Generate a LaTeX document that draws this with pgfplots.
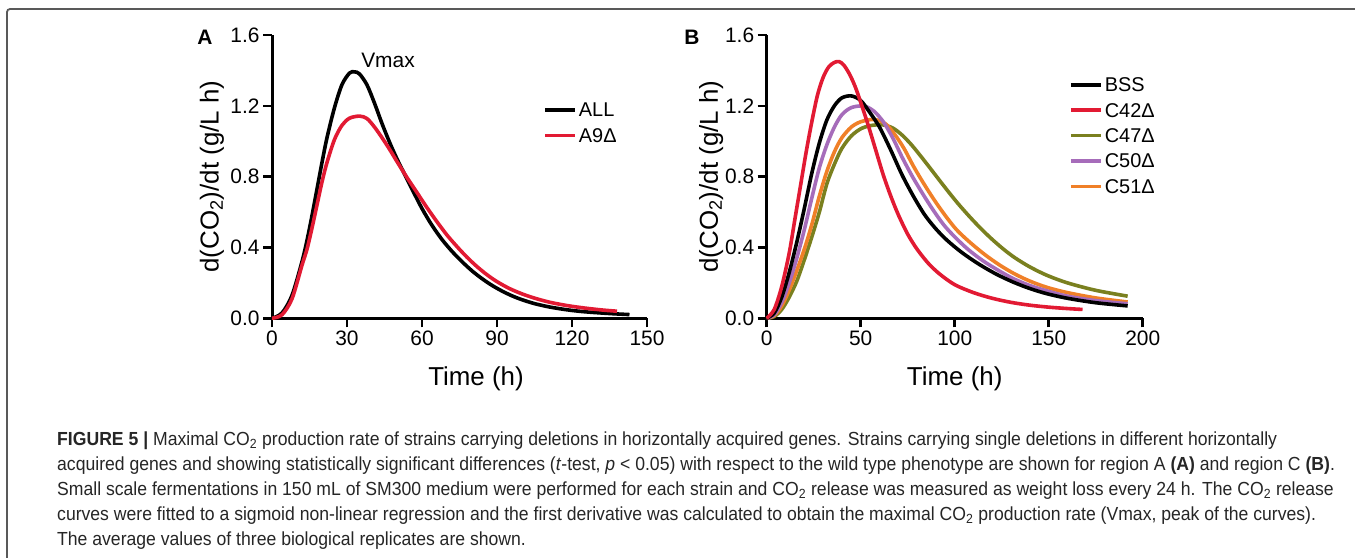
\documentclass[border=0pt]{standalone}
\usepackage{fontspec}
\setmainfont{Liberation Sans}
\newfontfamily\capfont[FakeStretch=0.93]{Liberation Sans}
\usepackage{pgfplots}
\pgfplotsset{compat=1.18}
\definecolor{cred}{RGB}{226,26,51}
\definecolor{colive}{RGB}{122,128,31}
\definecolor{cpurple}{RGB}{166,108,186}
\definecolor{corange}{RGB}{240,128,40}
\pgfplotsset{gp/.style={
  scale only axis, height=283.3bp, enlargelimits=false, ymin=0, ymax=1.6,
  ytick={0,0.4,0.8,1.2,1.6},
  axis lines*=left, axis line style={line width=3bp},
  tick align=outside, major tick length=9bp, tick style={line width=2.6bp,black},
  tick label style={font=\fontsize{21}{21}\selectfont},
  label style={font=\fontsize{26}{26}\selectfont},
  /pgf/number format/assume math mode=true,
  yticklabel style={/pgf/number format/fixed,/pgf/number format/fixed zerofill,/pgf/number format/precision=1},
  clip=false,
  every axis plot/.append style={line width=3.6bp, smooth, no marks},
  legend cell align=left,
  legend image code/.code={\draw[#1,line width=3.6bp] (0bp,0bp) -- (30bp,0bp);},
  legend style={draw=none, fill=none, font=\fontsize{20}{20}\selectfont, anchor=north west,
    row sep=7.4bp, nodes={inner sep=2bp, text height=14bp, text depth=0bp}},
  ylabel={d(CO\textsubscript{2})/dt (g/L h)}, xlabel={Time (h)},
}}

\begin{document}
\begin{tikzpicture}
\useasboundingbox (0bp,0bp) rectangle (1355bp,-558bp);
\fill[white] (0bp,0bp) rectangle (1355bp,-558bp);
\draw[black!65, line width=1.8bp, rounded corners=3bp] (7bp,-558bp) -- (7bp,-9bp) -- (1355bp,-9bp);

% panel A
\begin{axis}[gp, at={(272bp,-318.3bp)}, anchor=south west, width=375bp,
  xmin=0, xmax=150, xtick={0,30,...,150},
  ylabel style={at={(axis description cs:-0.16,0.5)}, anchor=center},
  xlabel style={at={(axis description cs:0.544,-0.212)}, anchor=center},
  legend style={at={(0.715,0.775)}}]
\addplot[black] coordinates {(0,0)(4,0.03)(8,0.13)(12,0.32)(14,0.44)(16,0.58)(18,0.73)(20,0.88)(22,1.02)(25,1.19)(28,1.32)(31,1.385)(33,1.392)(35,1.38)(38,1.318)(41,1.215)(44,1.10)(47,0.995)(50,0.90)(53,0.815)(56,0.73)(60,0.62)(64,0.525)(68,0.445)(72,0.378)(76,0.32)(80,0.268)(84,0.224)(88,0.186)(92,0.154)(96,0.127)(100,0.105)(105,0.083)(111,0.064)(118,0.048)(125,0.037)(135,0.027)(143,0.021)};
\addlegendentry{ALL}
\addplot[cred] coordinates {(0,0)(4,0.02)(8,0.11)(12,0.30)(14,0.39)(16,0.51)(18,0.64)(20,0.77)(22,0.88)(25,1.01)(28,1.09)(31,1.13)(35,1.142)(38,1.128)(41,1.08)(44,1.02)(47,0.955)(50,0.885)(54,0.795)(58,0.71)(62,0.625)(66,0.545)(70,0.47)(74,0.405)(78,0.345)(82,0.292)(86,0.246)(90,0.207)(95,0.168)(100,0.138)(105,0.114)(111,0.091)(118,0.072)(125,0.058)(132,0.047)(138,0.04)};
\addlegendentry{A9Δ}
\end{axis}

% panel B
\begin{axis}[gp, at={(766.7bp,-318.3bp)}, anchor=south west, width=376bp,
  xmin=0, xmax=200, xtick={0,50,...,200},
  ylabel style={at={(axis description cs:-0.148,0.5)}, anchor=center},
  xlabel style={at={(axis description cs:0.5,-0.212)}, anchor=center},
  legend style={at={(0.796,0.864)}}]
\addlegendimage{black}\addlegendentry{BSS}
\addlegendimage{cred}\addlegendentry{C42Δ}
\addlegendimage{colive}\addlegendentry{C47Δ}
\addlegendimage{cpurple}\addlegendentry{C50Δ}
\addlegendimage{corange}\addlegendentry{C51Δ}
\addplot[colive, forget plot] coordinates {(0,0)(4,0.01)(8,0.05)(12,0.12)(16,0.21)(20,0.33)(24,0.46)(28,0.6)(32,0.76)(36,0.87)(40,0.96)(45,1.03)(50,1.07)(55,1.088)(61.5,1.093)(67,1.075)(72,1.035)(77,0.98)(82,0.915)(87,0.847)(92,0.778)(97,0.71)(102,0.645)(108,0.573)(114,0.506)(120,0.445)(126,0.39)(132,0.342)(140,0.29)(149,0.243)(160,0.2)(175,0.158)(192,0.125)};
\addplot[corange, forget plot] coordinates {(0,0)(4,0.015)(8,0.07)(12,0.16)(16,0.27)(20,0.39)(24,0.53)(28,0.69)(32,0.83)(36,0.94)(40,1.02)(45,1.08)(50,1.11)(57,1.123)(63,1.1)(68,1.04)(73,0.96)(78,0.86)(83,0.77)(89,0.67)(95,0.58)(101,0.50)(108,0.43)(116,0.36)(124,0.30)(132,0.25)(140,0.21)(149,0.175)(160,0.145)(175,0.115)(192,0.092)};
\addplot[cpurple, forget plot] coordinates {(0,0)(4,0.02)(8,0.09)(12,0.2)(16,0.34)(20,0.5)(24,0.68)(28,0.85)(32,0.98)(36,1.08)(40,1.15)(45,1.19)(51.7,1.199)(57,1.17)(62,1.11)(67,1.02)(72,0.91)(77,0.81)(82,0.72)(88,0.62)(94,0.53)(100,0.46)(107,0.39)(115,0.325)(123,0.272)(131,0.225)(140,0.185)(149,0.155)(160,0.125)(175,0.10)(192,0.082)};
\addplot[black, forget plot] coordinates {(0,0)(4,0.03)(8,0.12)(12,0.26)(16,0.43)(20,0.62)(24,0.82)(28,0.99)(32,1.12)(36,1.2)(40,1.245)(45,1.256)(50,1.23)(55,1.16)(60,1.08)(66,0.95)(72,0.81)(78,0.69)(84,0.585)(90,0.505)(96,0.44)(104,0.37)(113,0.305)(122,0.25)(131,0.205)(140,0.168)(149,0.139)(160,0.113)(175,0.088)(192,0.07)};
\addplot[cred, forget plot] coordinates {(0,0)(4,0.05)(8,0.18)(12,0.37)(15,0.56)(18,0.75)(21,0.94)(24,1.11)(27,1.26)(30,1.36)(33,1.42)(36,1.445)(38.5,1.45)(41,1.43)(44,1.38)(47,1.31)(50,1.22)(54,1.09)(58,0.95)(62,0.81)(66,0.69)(70,0.585)(75,0.475)(80,0.39)(86,0.31)(92,0.25)(100,0.19)(110,0.145)(120,0.113)(130,0.09)(140,0.074)(150,0.063)(160,0.055)(168,0.05)};
\end{axis}

\node[font=\bfseries\fontsize{21}{21}\selectfont] at (205bp,-37bp) {A};
\node[font=\bfseries\fontsize{21}{21}\selectfont] at (692bp,-37bp) {B};
\node[font=\fontsize{21}{21}\selectfont] at (388bp,-60bp) {Vmax};

\begin{scope}[every node/.style={anchor=base west, inner sep=0pt, text=black!85, font=\capfont\fontsize{19}{19}\selectfont}]
\node at (57bp,-445bp) {\textbf{FIGURE 5 |} Maximal CO\textsubscript{2} production rate of strains carrying deletions in horizontally acquired genes. Strains carrying single deletions in different horizontally};
\node at (57bp,-470bp) {acquired genes and showing statistically significant differences (\textit{t}-test, \textit{p} < 0.05) with respect to the wild type phenotype are shown for region A \textbf{(A)} and region C \textbf{(B)}.};
\node at (57bp,-495bp) {Small scale fermentations in 150 mL of SM300 medium were performed for each strain and CO\textsubscript{2} release was measured as weight loss every 24 h. The CO\textsubscript{2} release};
\node at (57bp,-520bp) {curves were fitted to a sigmoid non-linear regression and the first derivative was calculated to obtain the maximal CO\textsubscript{2} production rate (Vmax, peak of the curves).};
\node at (57bp,-545bp) {The average values of three biological replicates are shown.};
\end{scope}
\end{tikzpicture}
\end{document}
